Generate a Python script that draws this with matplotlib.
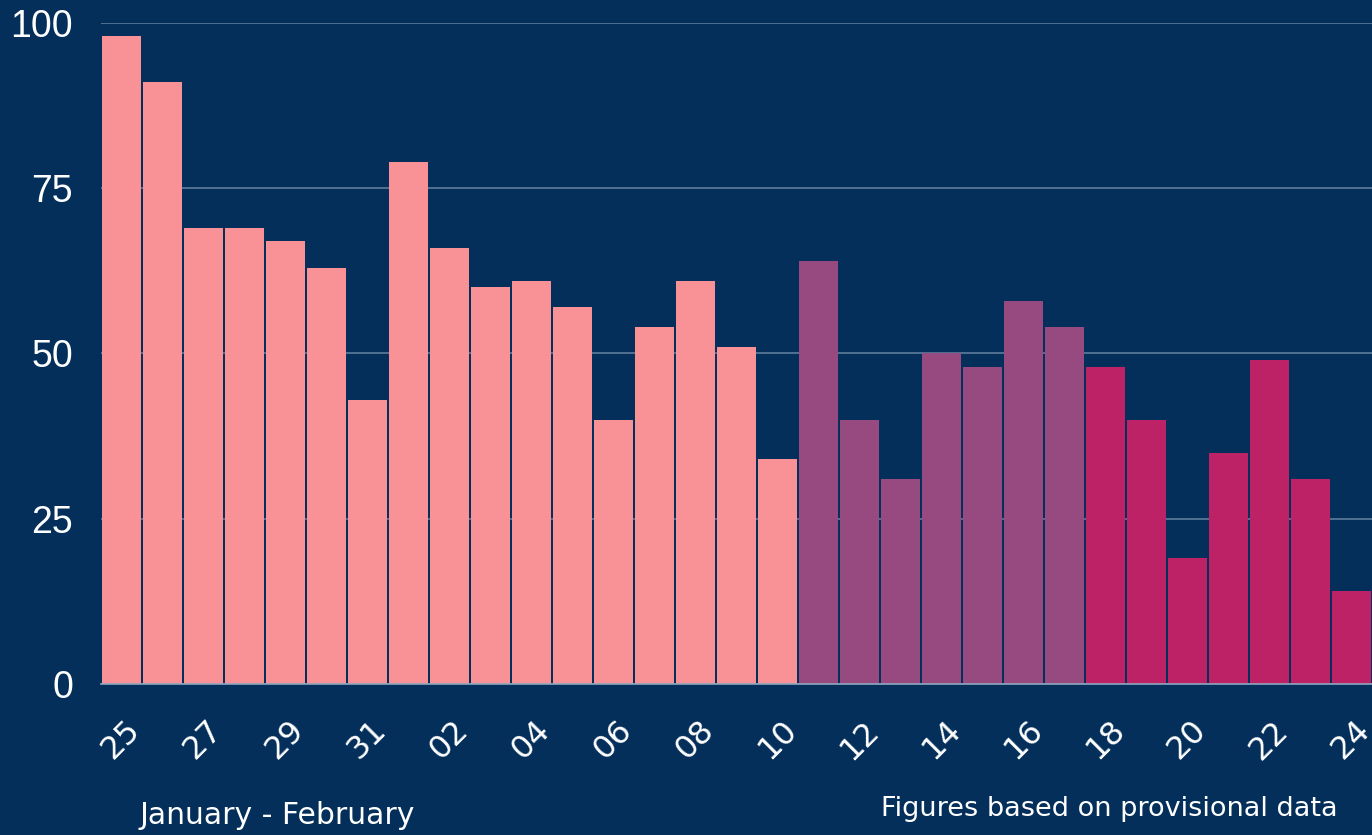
import matplotlib
matplotlib.use("Agg")
import matplotlib.pyplot as plt

days = ["25", "26", "27", "28", "29", "30", "31",
        "01", "02", "03", "04", "05", "06", "07", "08", "09", "10",
        "11", "12", "13", "14", "15", "16", "17",
        "18", "19", "20", "21", "22", "23", "24"]
values = [98, 91, 69, 69, 67, 63, 43,
          79, 66, 60, 61, 57, 40, 54, 61, 51, 34,
          64, 40, 31, 50, 48, 58, 54,
          48, 40, 19, 35, 49, 31, 14]
groups = ["a"] * 17 + ["b"] * 7 + ["c"] * 7
group_colors = {"a": "#F99297", "b": "#964A80", "c": "#BD2166"}
yticks = [0, 25, 50, 75, 100]

BG = "#032F5A"
fig = plt.figure(figsize=(13.72, 8.35), dpi=100, facecolor=BG)
ax = fig.add_axes([0.0736, 0.1808, 0.9264, 0.7917], facecolor=BG)

x = list(range(len(days)))
cols = [group_colors[g] for g in groups]
ax.bar(x, values, width=0.95, color=cols, zorder=3, linewidth=0)

ax.set_ylim(0, 100)
ax.set_xlim(-0.5, len(days) - 0.5)
ax.set_yticks(yticks)
ax.set_yticklabels([str(v) for v in yticks], fontsize=27, color="white",
                   family=["Liberation Sans", "DejaVu Sans"])
ax.yaxis.grid(True, color="#5F7D9B", linewidth=1.2, zorder=0)
ax.tick_params(axis="y", length=0, pad=20)

ax.set_xticks(x[::2])
ax.set_xticklabels(days[::2], rotation=45, ha="center", va="top",
                   fontsize=23, color="white", family=["DejaVu Sans"])
ax.tick_params(axis="x", length=0, pad=22)

for s in ["top", "right", "left"]:
    ax.spines[s].set_visible(False)
ax.spines["bottom"].set_color("#8FA6BF")
ax.spines["bottom"].set_linewidth(1.2)
ax.spines["bottom"].set_zorder(4)

fig.text(140 / 1372, 1 - 816 / 835, "January - February", color="white",
         fontsize=21.5, ha="left", va="center", family=["DejaVu Sans"])
fig.text(1338 / 1372, 1 - 809 / 835, "Figures based on provisional data",
         color="white", fontsize=19.5, ha="right", va="center",
         family=["DejaVu Sans"])

fig.savefig("out.png", dpi=100, facecolor=BG)
